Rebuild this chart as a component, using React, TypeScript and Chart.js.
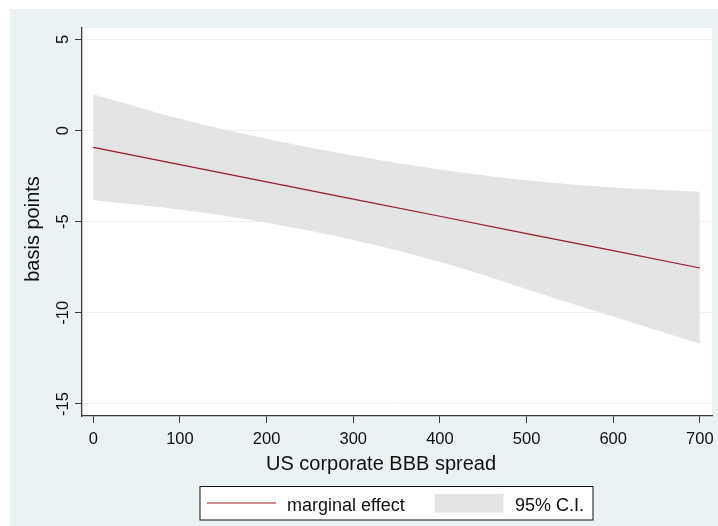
import React, { useEffect, useRef } from "react";
import { Chart, registerables } from "chart.js";

Chart.register(...registerables);

// ---- data ----
const spread = [0, 100, 200, 300, 400, 500, 600, 700];
const marginalEffect = [-0.92, -1.87, -2.81, -3.76, -4.70, -5.65, -6.59, -7.54];
const ciUpper = [2.0, 0.65, -0.45, -1.36, -2.13, -2.72, -3.12, -3.36];
const ciLower = [-3.82, -4.33, -5.05, -6.0, -7.2, -8.7, -10.2, -11.7];
const xTicks = [0, 100, 200, 300, 400, 500, 600, 700];
const yTicks = [-15, -10, -5, 0, 5];
const xTitle = "US corporate BBB spread";
const yTitle = "basis points";
const lineLabel = "marginal effect";
const bandLabel = "95% C.I.";

const FONT = "'Liberation Sans', Arial, Helvetica, sans-serif";
const BG = "#EAF2F3";
const AXIS = "#3a3a3a";
const LINE = "#9B1C22";
const BAND = "#E4E4E4";

const decorPlugin = {
  id: "stataDecor",
  beforeDraw(chart: any) {
    const { ctx, chartArea } = chart;
    ctx.save();
    ctx.fillStyle = "#ffffff";
    ctx.fillRect(0, 0, chart.width, chart.height);
    ctx.fillStyle = BG;
    ctx.fillRect(10, 9, chart.width - 10, chart.height - 9);
    ctx.fillStyle = "#ffffff";
    ctx.fillRect(chartArea.left, chartArea.top, chartArea.right - chartArea.left, chartArea.bottom - chartArea.top);
    ctx.restore();
  },
  afterDraw(chart: any) {
    const { ctx, chartArea } = chart;
    const xs = chart.scales.x;
    const ys = chart.scales.y;
    ctx.save();
    ctx.fillStyle = "#111";
    // x tick labels
    ctx.font = `16.5px ${FONT}`;
    ctx.textAlign = "center";
    ctx.textBaseline = "alphabetic";
    xTicks.forEach((v) => {
      ctx.fillText(String(v), xs.getPixelForValue(v), chartArea.bottom + 28);
    });
    // y tick labels (rotated)
    yTicks.forEach((v) => {
      const py = ys.getPixelForValue(v);
      ctx.save();
      ctx.translate(chartArea.left - 14, py);
      ctx.rotate(-Math.PI / 2);
      ctx.textAlign = "center";
      ctx.fillText(String(v), 0, 0);
      ctx.restore();
    });
    // axis titles
    ctx.font = `20px ${FONT}`;
    ctx.textAlign = "center";
    ctx.fillText(xTitle, 381, 470);
    ctx.save();
    ctx.translate(39, 229);
    ctx.rotate(-Math.PI / 2);
    ctx.fillText(yTitle, 0, 0);
    ctx.restore();

    // legend
    const ds = chart.data.datasets;
    const lx = 200, ly = 486.5, lw = 393, lh = 33.5;
    ctx.fillStyle = "#ffffff";
    ctx.fillRect(lx, ly, lw, lh);
    ctx.strokeStyle = "#111";
    ctx.lineWidth = 1;
    ctx.strokeRect(lx, ly, lw, lh);
    ctx.strokeStyle = ds[0].borderColor;
    ctx.lineWidth = 1.2;
    ctx.beginPath();
    ctx.moveTo(207, 503);
    ctx.lineTo(276, 503);
    ctx.stroke();
    ctx.fillStyle = ds[1].backgroundColor;
    ctx.fillRect(434.5, 494, 69, 18.5);
    ctx.fillStyle = "#111";
    ctx.font = `18px ${FONT}`;
    ctx.textAlign = "left";
    ctx.fillText(ds[0].label, 287, 511);
    ctx.fillText(ds[1].label, 515, 511);
    ctx.restore();
  },
};

export default function App() {
  const ref = useRef<HTMLCanvasElement>(null);
  useEffect(() => {
    if (!ref.current) return;
    const chart = new Chart(ref.current, {
      type: "line",
      data: {
        datasets: [
          {
            label: lineLabel,
            data: spread.map((x, i) => ({ x, y: marginalEffect[i] })),
            borderColor: LINE,
            borderWidth: 1.2,
            pointRadius: 0,
            fill: false,
            order: 0,
          },
          {
            label: bandLabel,
            data: spread.map((x, i) => ({ x, y: ciUpper[i] })),
            borderWidth: 0,
            borderColor: "rgba(0,0,0,0)",
            backgroundColor: BAND,
            pointRadius: 0,
            fill: "+1",
            cubicInterpolationMode: "monotone",
            order: 1,
          },
          {
            label: "",
            data: spread.map((x, i) => ({ x, y: ciLower[i] })),
            borderWidth: 0,
            borderColor: "rgba(0,0,0,0)",
            backgroundColor: BAND,
            pointRadius: 0,
            fill: false,
            cubicInterpolationMode: "monotone",
            order: 2,
          },
        ],
      },
      options: {
        animation: false,
        responsive: false,
        devicePixelRatio: 1,
        events: [],
        layout: { padding: { left: 0, top: 28, right: 6, bottom: 0 } },
        plugins: {
          legend: { display: false },
          tooltip: { enabled: false },
          title: { display: false },
        },
        scales: {
          x: {
            type: "linear",
            min: -13,
            max: 714,
            afterBuildTicks: (s: any) => {
              s.ticks = xTicks.map((v) => ({ value: v }));
            },
            afterFit: (s: any) => {
              s.height = 110;
            },
            ticks: { display: false },
            grid: {
              drawOnChartArea: false,
              drawTicks: true,
              tickLength: 7,
              tickColor: AXIS,
              tickWidth: 1,
            },
            border: { display: true, color: AXIS, width: 1.3 },
          },
          y: {
            type: "linear",
            min: -15.66,
            max: 5.63,
            afterBuildTicks: (s: any) => {
              s.ticks = yTicks.map((v) => ({ value: v }));
            },
            afterFit: (s: any) => {
              s.width = 82;
            },
            ticks: { display: false },
            grid: {
              color: BG,
              lineWidth: 1,
              drawTicks: true,
              tickLength: 7,
              tickColor: AXIS,
              tickWidth: 1,
            },
            border: { display: true, color: AXIS, width: 1.3 },
          },
        },
      },
      plugins: [decorPlugin],
    } as any);
    return () => chart.destroy();
  }, []);
  return (
    <div style={{ position: "absolute", left: 0, top: 0, width: 718, height: 526 }}>
      <canvas ref={ref} width={718} height={526} style={{ display: "block" }} />
    </div>
  );
}
